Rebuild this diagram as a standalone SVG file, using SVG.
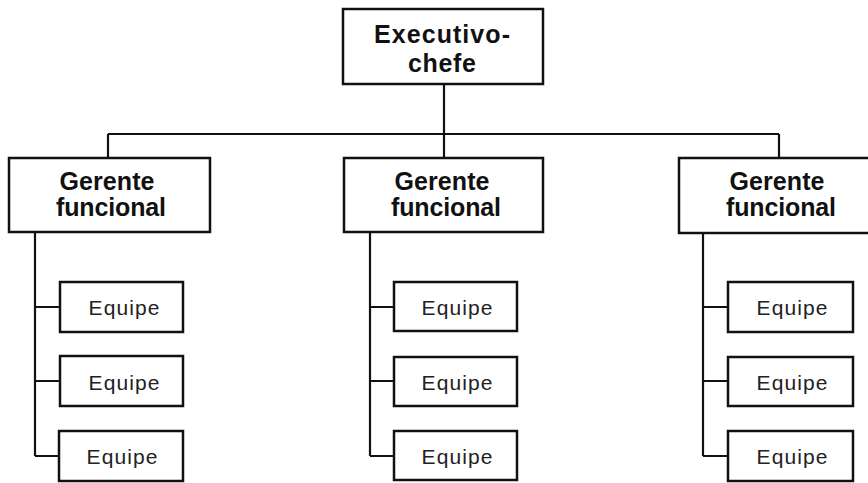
<svg xmlns="http://www.w3.org/2000/svg" width="868" height="483" viewBox="0 0 868 483">
  <style>
    .box { fill: #fff; stroke: #111; stroke-width: 2.5; }
    .head { font-family: "Liberation Sans", Arial, sans-serif; font-weight: bold; font-size: 25px; fill: #111; text-anchor: middle; }
    .team { font-family: "Liberation Sans", Arial, sans-serif; font-size: 21px; fill: #222; text-anchor: middle; }
    .wire { fill: none; stroke: #111; stroke-width: 2.2; }
  </style>
  <rect width="868" height="483" fill="#fff"/>

  <!-- connectors -->
  <g id="connectors">
    <path class="wire" d="M444 84 V134 M108 134 H779 M108 134 V159 M444 134 V159 M779 134 V159"/>
    <path class="wire" d="M35 232 V456 M35 307 H60 M35 381 H60 M35 456 H60"/>
    <path class="wire" d="M370 232 V456 M370 307 H394 M370 381 H394 M370 456 H394"/>
    <path class="wire" d="M703 232 V456 M703 307 H728 M703 381 H728 M703 456 H728"/>
  </g>

  <!-- chief executive -->
  <g id="executivo">
    <rect class="box" x="343" y="9" width="200" height="75" stroke-width="3"/>
    <text class="head" x="442" y="43" textLength="136" lengthAdjust="spacing">Executivo-</text>
    <text class="head" x="442" y="72" textLength="68" lengthAdjust="spacing">chefe</text>
  </g>

  <!-- functional managers -->
  <g id="gerente-1">
    <rect class="box" x="9" y="158" width="201" height="74"/>
    <text class="head" x="107" y="190" textLength="95" lengthAdjust="spacing">Gerente</text>
    <text class="head" x="111" y="216" textLength="110" lengthAdjust="spacing">funcional</text>
  </g>
  <g id="gerente-2">
    <rect class="box" x="344" y="158" width="199" height="74"/>
    <text class="head" x="442" y="190" textLength="95" lengthAdjust="spacing">Gerente</text>
    <text class="head" x="446" y="216" textLength="110" lengthAdjust="spacing">funcional</text>
  </g>
  <g id="gerente-3">
    <rect class="box" x="679" y="158" width="205" height="75"/>
    <text class="head" x="777" y="190" textLength="95" lengthAdjust="spacing">Gerente</text>
    <text class="head" x="781" y="216" textLength="110" lengthAdjust="spacing">funcional</text>
  </g>

  <!-- teams, column 1 -->
  <g id="equipe-1-1">
    <rect class="box" x="60" y="282" width="123" height="50"/>
    <text class="team" x="124" y="315" textLength="71" lengthAdjust="spacing">Equipe</text>
  </g>
  <g id="equipe-1-2">
    <rect class="box" x="60" y="356" width="123" height="50"/>
    <text class="team" x="124" y="390" textLength="71" lengthAdjust="spacing">Equipe</text>
  </g>
  <g id="equipe-1-3">
    <rect class="box" x="59" y="431" width="124" height="50"/>
    <text class="team" x="122" y="464" textLength="71" lengthAdjust="spacing">Equipe</text>
  </g>

  <!-- teams, column 2 -->
  <g id="equipe-2-1">
    <rect class="box" x="394" y="282" width="123" height="49"/>
    <text class="team" x="457" y="315" textLength="71" lengthAdjust="spacing">Equipe</text>
  </g>
  <g id="equipe-2-2">
    <rect class="box" x="394" y="357" width="123" height="49"/>
    <text class="team" x="457" y="390" textLength="71" lengthAdjust="spacing">Equipe</text>
  </g>
  <g id="equipe-2-3">
    <rect class="box" x="394" y="431" width="123" height="49"/>
    <text class="team" x="457" y="464" textLength="71" lengthAdjust="spacing">Equipe</text>
  </g>

  <!-- teams, column 3 -->
  <g id="equipe-3-1">
    <rect class="box" x="728" y="282" width="125" height="50"/>
    <text class="team" x="792" y="315" textLength="71" lengthAdjust="spacing">Equipe</text>
  </g>
  <g id="equipe-3-2">
    <rect class="box" x="728" y="357" width="125" height="49"/>
    <text class="team" x="792" y="390" textLength="71" lengthAdjust="spacing">Equipe</text>
  </g>
  <g id="equipe-3-3">
    <rect class="box" x="728" y="431" width="125" height="50"/>
    <text class="team" x="792" y="464" textLength="71" lengthAdjust="spacing">Equipe</text>
  </g>
</svg>
